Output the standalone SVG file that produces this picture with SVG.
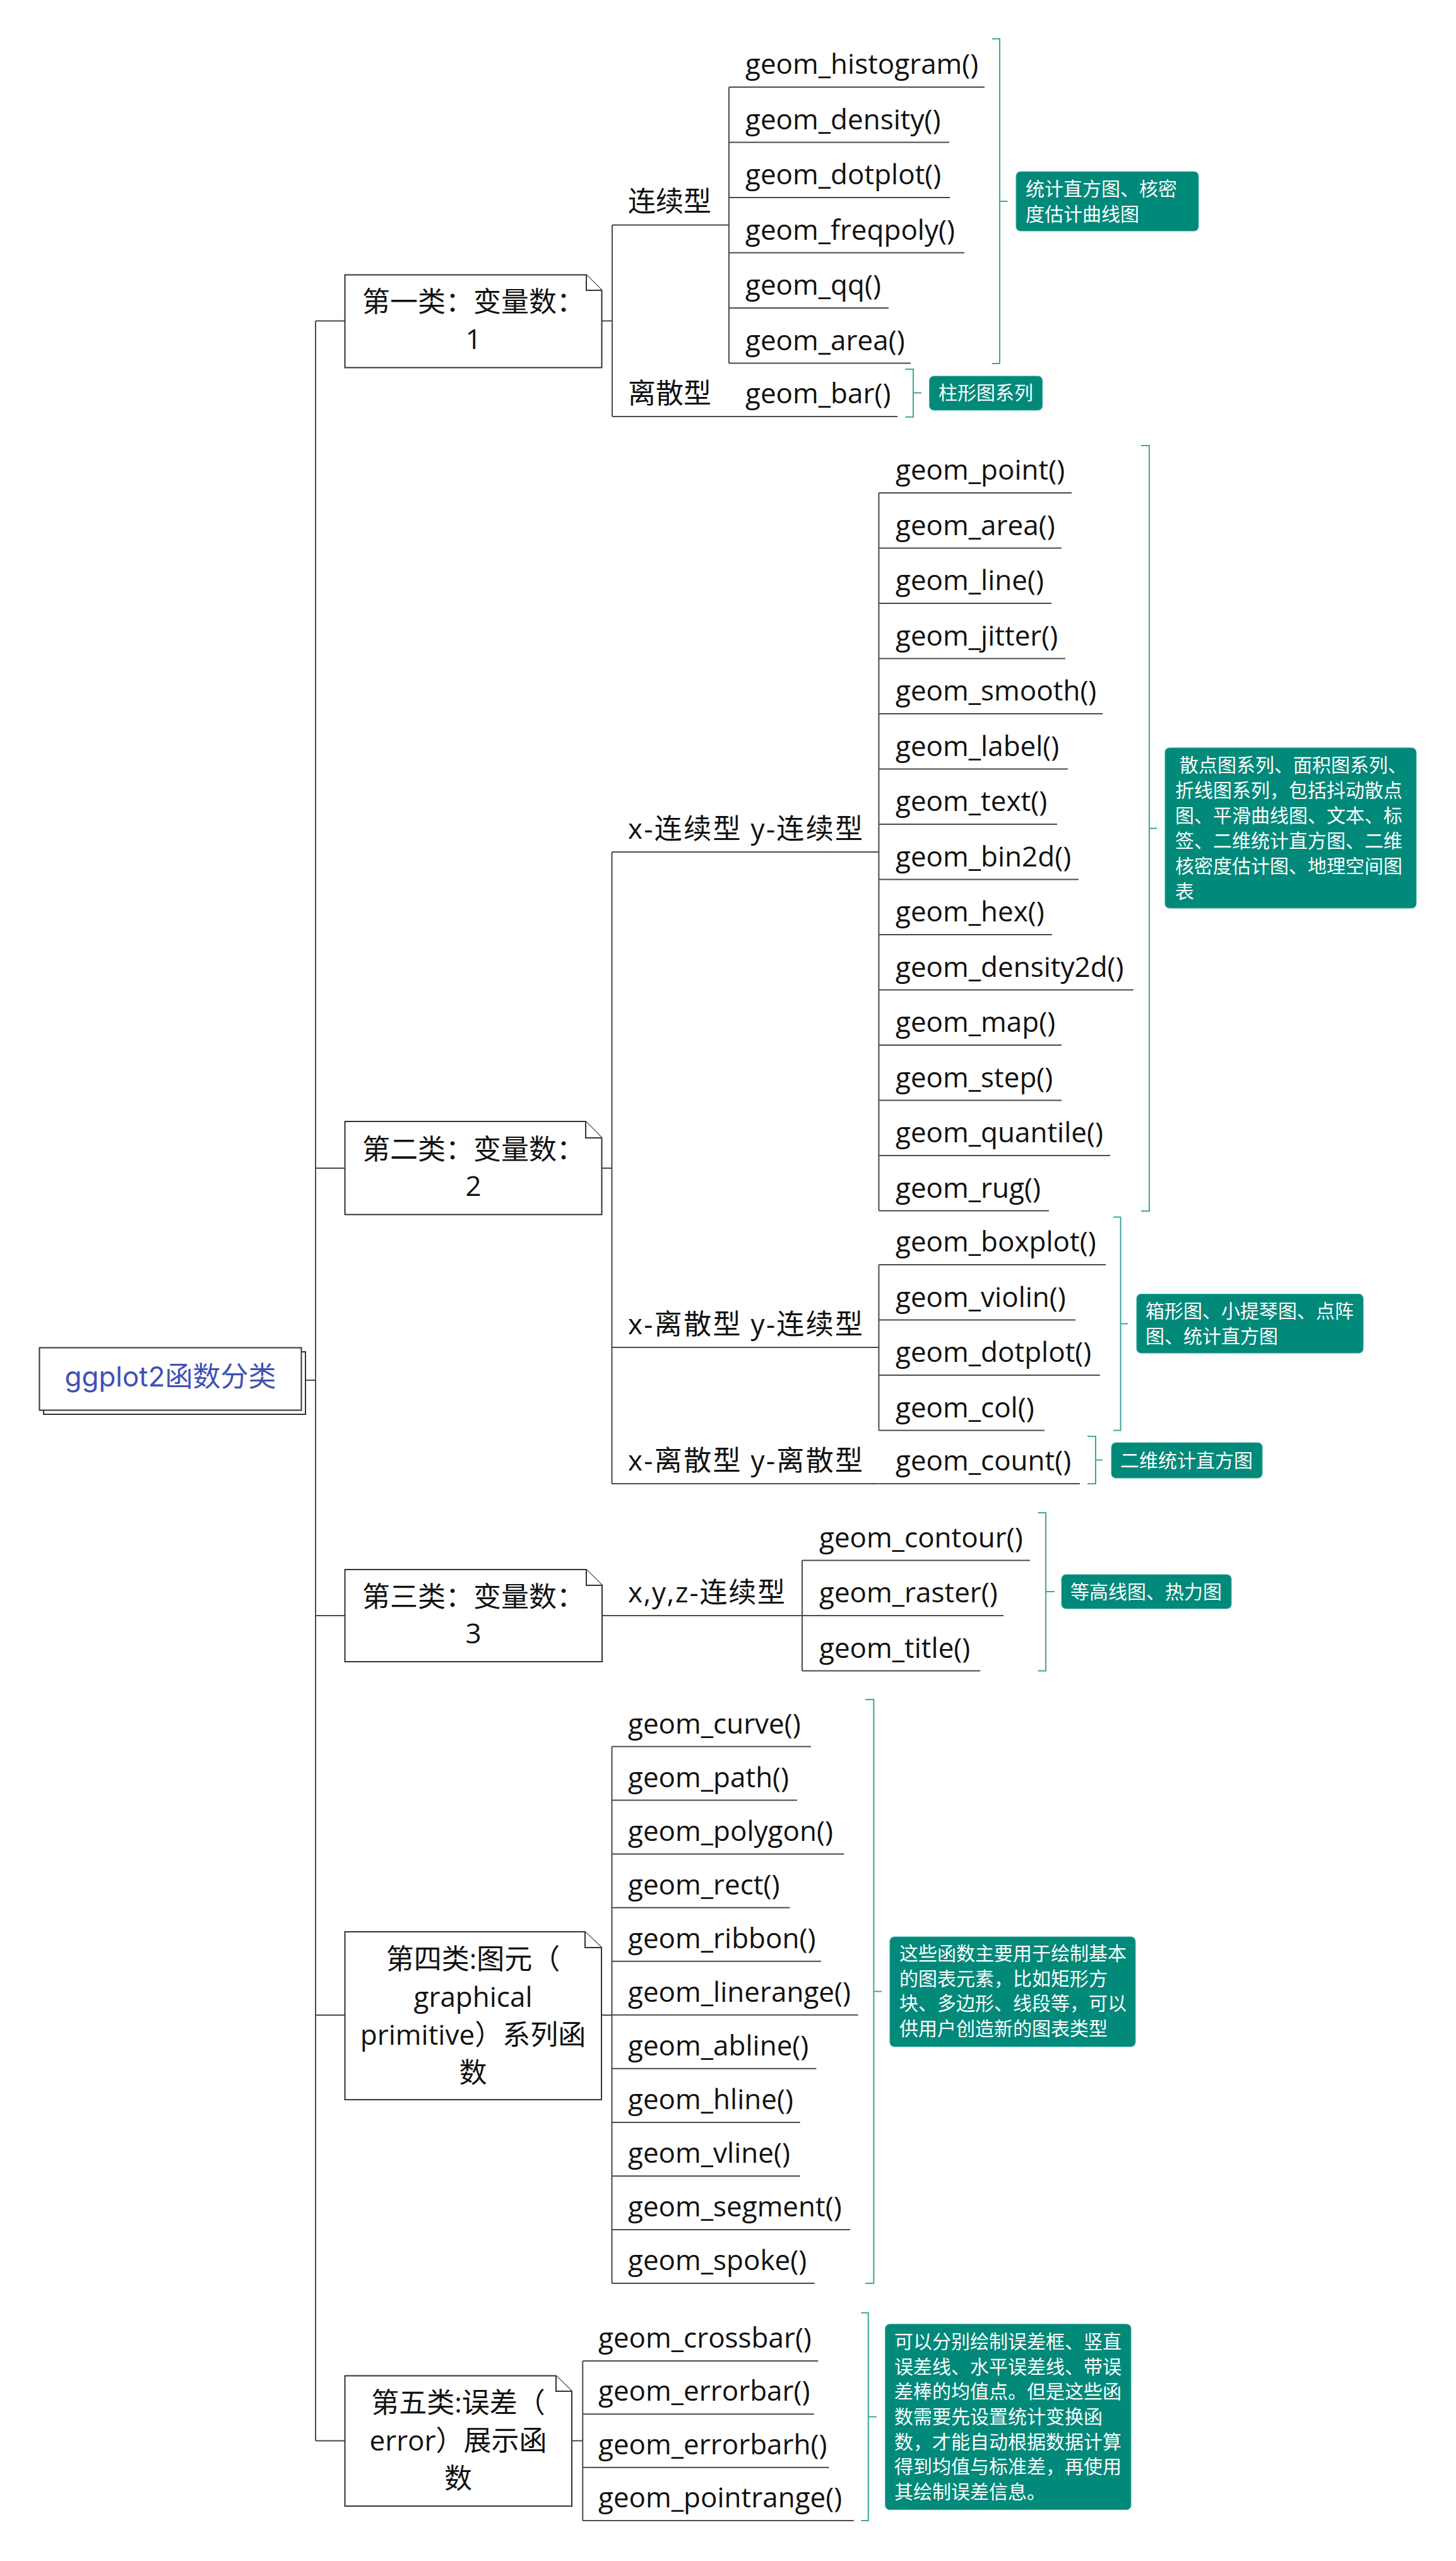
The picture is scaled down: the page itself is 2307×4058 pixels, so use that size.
<svg xmlns="http://www.w3.org/2000/svg" width="2307" height="4058" viewBox="0 0 2307 4058">
<style>
.bg{fill:#fff}
.ln{stroke:#4a4a4a;stroke-width:2;fill:none}
.ul{stroke:#4a4a4a;stroke-width:2;fill:none}
.br{stroke:#3aa89b;stroke-width:2;fill:none}
.nd{fill:#fff;stroke:#333;stroke-width:2}
.t{font-family:"Open Sans","Noto Sans CJK SC",sans-serif;font-size:44px;fill:#111}
.c{text-anchor:middle}
.rt{font-family:Inter,"Noto Sans CJK SC",sans-serif;font-size:44px;fill:#3f51b5;text-anchor:middle}
.nb{fill:#01897a;stroke:#3aa89b;stroke-width:1}
.nt{font-family:"Noto Sans CJK SC",sans-serif;font-size:30px;fill:#fff}
</style>
<rect class="bg" x="0" y="0" width="2307" height="4058"/>

<g id="connectors">
<path class="ln" d="M500,508.5 V3867.5"/>
<path class="ln" d="M484,2187 H500"/>
<path class="ln" d="M500,508.5 H546.5 M953.5,508.5 H970 M970,356.5 V660 M1155,138 V575.5"/>
<path class="ln" d="M500,1851 H546.5 M953.5,1851 H969.5 M969.5,1350 V2351 M1392.5,781 V1918.5 M1392.5,2004 V2266.5"/>
<path class="ln" d="M500,2560 H546.5 M954,2560 H969.5 M1271,2472.5 V2647.5"/>
<path class="ln" d="M500,3193 H546.5 M953,3193 H969.5 M969.5,2767.6 V3618"/>
<path class="ln" d="M500,3867.5 H546.5 M906,3867.5 H923.3 M923.3,3741 V3994"/>
</g>

<g id="brackets">
<path class="br" d="M1572,61.6 H1584 V576 H1572 M1584,319 H1596.5"/>
<path class="br" d="M1434.5,585 H1447 V660.7 H1434.5 M1447,622.5 H1460"/>
<path class="br" d="M1808,706 H1821 V1919 H1808 M1821,1312.5 H1833"/>
<path class="br" d="M1764,1928.6 H1775.6 V2266.5 H1764 M1775.6,2097.5 H1787"/>
<path class="br" d="M1723,2276 H1736 V2351 H1723 M1736,2313.5 H1747"/>
<path class="br" d="M1644.6,2397 H1657 V2647.5 H1644.6 M1657,2522 H1671"/>
<path class="br" d="M1371,2693 H1384.4 V3618 H1371 M1384.4,3155.5 H1397"/>
<path class="br" d="M1364.3,3664.7 H1375.8 V3994 H1364.3 M1375.8,3829.4 H1389"/>
</g>

<g id="root">
<rect class="nd" x="69" y="2142" width="415" height="99"/>
<rect class="nd" x="62.5" y="2135.5" width="415" height="99"/>
<text class="rt" x="270" y="2197">ggplot2函数分类</text>
</g>

<g id="cat1">
<path class="nd" d="M546.5,435.5 H929 L953.5,460 V582.5 H546.5 Z"/>
<path class="nd" d="M929,435.5 V460 H953.5" fill="none"/>
<text class="t c" x="750" y="494">第一类：变量数：</text>
<text class="t c" x="750" y="553">1</text>
</g>
<g id="cat2">
<path class="nd" d="M546.5,1777 H928 L953.5,1803 V1924.5 H546.5 Z"/>
<path class="nd" d="M928,1777 V1803 H953.5" fill="none"/>
<text class="t c" x="750" y="1837">第二类：变量数：</text>
<text class="t c" x="750" y="1895">2</text>
</g>
<g id="cat3">
<path class="nd" d="M546.5,2487 H929 L954,2512 V2633 H546.5 Z"/>
<path class="nd" d="M929,2487 V2512 H954" fill="none"/>
<text class="t c" x="750" y="2546">第三类：变量数：</text>
<text class="t c" x="750" y="2604">3</text>
</g>
<g id="cat4">
<path class="nd" d="M546.5,3061 H927 L953,3086 V3327 H546.5 Z"/>
<path class="nd" d="M927,3061 V3086 H953" fill="none"/>
<text class="t c" x="749.5" y="3120">第四类:图元（</text>
<text class="t c" x="749.5" y="3180">graphical</text>
<text class="t c" x="749.5" y="3240">primitive）系列函</text>
<text class="t c" x="749.5" y="3300">数</text>
</g>
<g id="cat5">
<path class="nd" d="M546.5,3764.5 H881 L906,3789 V3971 H546.5 Z"/>
<path class="nd" d="M881,3764.5 V3789 H906" fill="none"/>
<text class="t c" x="726" y="3823">第五类:误差（</text>
<text class="t c" x="726" y="3883">error）展示函</text>
<text class="t c" x="726" y="3943">数</text>
</g>

<g id="sub-continuous"><path class="ul" d="M970,356.5 H1155"/><text class="t" x="995" y="335">连续型</text></g>
<g id="sub-discrete"><path class="ul" d="M970,660 H1155"/><text class="t" x="995" y="639">离散型</text></g>
<g id="sub-xc-yc"><path class="ul" d="M969.5,1350 H1392.5"/><text class="t" x="995" y="1329" textLength="372" lengthAdjust="spacing">x-连续型 y-连续型</text></g>
<g id="sub-xd-yc"><path class="ul" d="M969.5,2135 H1392.5"/><text class="t" x="995" y="2114" textLength="372" lengthAdjust="spacing">x-离散型 y-连续型</text></g>
<g id="sub-xd-yd"><path class="ul" d="M969.5,2351 H1392.5"/><text class="t" x="995" y="2330" textLength="372" lengthAdjust="spacing">x-离散型 y-离散型</text></g>
<g id="sub-xyz"><path class="ul" d="M969.5,2560 H1271"/><text class="t" x="995" y="2539" textLength="249" lengthAdjust="spacing">x,y,z-连续型</text></g>

<g id="s1-histogram"><path class="ul" d="M1155,138 H1560"/><text class="t" x="1181" y="117">geom_histogram()</text></g>
<g id="s1-density"><path class="ul" d="M1155,225.5 H1504"/><text class="t" x="1181" y="204.5">geom_density()</text></g>
<g id="s1-dotplot"><path class="ul" d="M1155,313 H1505"/><text class="t" x="1181" y="292">geom_dotplot()</text></g>
<g id="s1-freqpoly"><path class="ul" d="M1155,400.5 H1528"/><text class="t" x="1181" y="379.5">geom_freqpoly()</text></g>
<g id="s1-qq"><path class="ul" d="M1155,488 H1408"/><text class="t" x="1181" y="467">geom_qq()</text></g>
<g id="s1-area"><path class="ul" d="M1155,575.5 H1443"/><text class="t" x="1181" y="554.5">geom_area()</text></g>
<g id="s1-bar"><path class="ul" d="M1155,660 H1422"/><text class="t" x="1181" y="639">geom_bar()</text></g>

<g id="s2-point"><path class="ul" d="M1392.5,781 H1698"/><text class="t" x="1419" y="760">geom_point()</text></g>
<g id="s2-area"><path class="ul" d="M1392.5,868.5 H1682"/><text class="t" x="1419" y="847.5">geom_area()</text></g>
<g id="s2-line"><path class="ul" d="M1392.5,956 H1666"/><text class="t" x="1419" y="935">geom_line()</text></g>
<g id="s2-jitter"><path class="ul" d="M1392.5,1043.5 H1688"/><text class="t" x="1419" y="1022.5">geom_jitter()</text></g>
<g id="s2-smooth"><path class="ul" d="M1392.5,1131 H1747"/><text class="t" x="1419" y="1110">geom_smooth()</text></g>
<g id="s2-label"><path class="ul" d="M1392.5,1218.5 H1692"/><text class="t" x="1419" y="1197.5">geom_label()</text></g>
<g id="s2-text"><path class="ul" d="M1392.5,1306 H1675"/><text class="t" x="1419" y="1285">geom_text()</text></g>
<g id="s2-bin2d"><path class="ul" d="M1392.5,1393.5 H1709"/><text class="t" x="1419" y="1372.5">geom_bin2d()</text></g>
<g id="s2-hex"><path class="ul" d="M1392.5,1481 H1667"/><text class="t" x="1419" y="1460">geom_hex()</text></g>
<g id="s2-density2d"><path class="ul" d="M1392.5,1568.5 H1796"/><text class="t" x="1419" y="1547.5">geom_density2d()</text></g>
<g id="s2-map"><path class="ul" d="M1392.5,1656 H1682"/><text class="t" x="1419" y="1635">geom_map()</text></g>
<g id="s2-step"><path class="ul" d="M1392.5,1743.5 H1682"/><text class="t" x="1419" y="1722.5">geom_step()</text></g>
<g id="s2-quantile"><path class="ul" d="M1392.5,1831 H1759"/><text class="t" x="1419" y="1810">geom_quantile()</text></g>
<g id="s2-rug"><path class="ul" d="M1392.5,1918.5 H1662"/><text class="t" x="1419" y="1897.5">geom_rug()</text></g>

<g id="s2-boxplot"><path class="ul" d="M1392.5,2004 H1752"/><text class="t" x="1419" y="1983">geom_boxplot()</text></g>
<g id="s2-violin"><path class="ul" d="M1392.5,2091.5 H1704"/><text class="t" x="1419" y="2070.5">geom_violin()</text></g>
<g id="s2-dotplot"><path class="ul" d="M1392.5,2179 H1743"/><text class="t" x="1419" y="2158">geom_dotplot()</text></g>
<g id="s2-col"><path class="ul" d="M1392.5,2266.5 H1655"/><text class="t" x="1419" y="2245.5">geom_col()</text></g>
<g id="s2-count"><path class="ul" d="M1392.5,2351 H1711"/><text class="t" x="1419" y="2330">geom_count()</text></g>

<g id="s3-contour"><path class="ul" d="M1271,2472.5 H1632"/><text class="t" x="1298" y="2451.5">geom_contour()</text></g>
<g id="s3-raster"><path class="ul" d="M1271,2560 H1590"/><text class="t" x="1298" y="2539">geom_raster()</text></g>
<g id="s3-title"><path class="ul" d="M1271,2647.5 H1553"/><text class="t" x="1298" y="2626.5">geom_title()</text></g>

<g id="s4-curve"><path class="ul" d="M969.5,2767.6 H1285"/><text class="t" x="995" y="2746.6">geom_curve()</text></g>
<g id="s4-path"><path class="ul" d="M969.5,2852.6 H1263"/><text class="t" x="995" y="2831.6">geom_path()</text></g>
<g id="s4-polygon"><path class="ul" d="M969.5,2937.7 H1337.5"/><text class="t" x="995" y="2916.7">geom_polygon()</text></g>
<g id="s4-rect"><path class="ul" d="M969.5,3022.7 H1251.5"/><text class="t" x="995" y="3001.7">geom_rect()</text></g>
<g id="s4-ribbon"><path class="ul" d="M969.5,3107.8 H1301"/><text class="t" x="995" y="3086.8">geom_ribbon()</text></g>
<g id="s4-linerange"><path class="ul" d="M969.5,3192.8 H1359.5"/><text class="t" x="995" y="3171.8">geom_linerange()</text></g>
<g id="s4-abline"><path class="ul" d="M969.5,3277.8 H1293.5"/><text class="t" x="995" y="3256.8">geom_abline()</text></g>
<g id="s4-hline"><path class="ul" d="M969.5,3362.9 H1267.7"/><text class="t" x="995" y="3341.9">geom_hline()</text></g>
<g id="s4-vline"><path class="ul" d="M969.5,3447.9 H1267.7"/><text class="t" x="995" y="3426.9">geom_vline()</text></g>
<g id="s4-segment"><path class="ul" d="M969.5,3533 H1347"/><text class="t" x="995" y="3512">geom_segment()</text></g>
<g id="s4-spoke"><path class="ul" d="M969.5,3618 H1290.7"/><text class="t" x="995" y="3597">geom_spoke()</text></g>

<g id="s5-crossbar"><path class="ul" d="M923.3,3741 H1296.4"/><text class="t" x="948" y="3720">geom_crossbar()</text></g>
<g id="s5-errorbar"><path class="ul" d="M923.3,3825.3 H1289.7"/><text class="t" x="948" y="3804.3">geom_errorbar()</text></g>
<g id="s5-errorbarh"><path class="ul" d="M923.3,3909.7 H1313.6"/><text class="t" x="948" y="3888.7">geom_errorbarh()</text></g>
<g id="s5-pointrange"><path class="ul" d="M923.3,3994 H1352.8"/><text class="t" x="948" y="3973">geom_pointrange()</text></g>

<g id="note1">
<rect class="nb" x="1610" y="272" width="289" height="94" rx="7"/>
<text class="nt" x="1625" y="310">统计直方图、核密</text>
<text class="nt" x="1625" y="350">度估计曲线图</text>
</g>
<g id="note-bar">
<rect class="nb" x="1472.7" y="596" width="179" height="54" rx="7"/>
<text class="nt" x="1487" y="633">柱形图系列</text>
</g>
<g id="note2a">
<rect class="nb" x="1846" y="1185" width="398" height="254" rx="7"/>
<text class="nt" x="1869" y="1223">散点图系列、面积图系列、</text>
<text class="nt" x="1862" y="1263">折线图系列，包括抖动散点</text>
<text class="nt" x="1862" y="1303">图、平滑曲线图、文本、标</text>
<text class="nt" x="1862" y="1343">签、二维统计直方图、二维</text>
<text class="nt" x="1862" y="1383">核密度估计图、地理空间图</text>
<text class="nt" x="1862" y="1423">表</text>
</g>
<g id="note2b">
<rect class="nb" x="1801" y="2050.5" width="359" height="93.5" rx="7"/>
<text class="nt" x="1815" y="2088">箱形图、小提琴图、点阵</text>
<text class="nt" x="1815" y="2128">图、统计直方图</text>
</g>
<g id="note2c">
<rect class="nb" x="1761" y="2286" width="239" height="56" rx="7"/>
<text class="nt" x="1775" y="2325">二维统计直方图</text>
</g>
<g id="note3">
<rect class="nb" x="1682" y="2495" width="269" height="54" rx="7"/>
<text class="nt" x="1696" y="2533">等高线图、热力图</text>
</g>
<g id="note4">
<rect class="nb" x="1410" y="3069" width="389" height="174" rx="7"/>
<text class="nt" x="1425" y="3106">这些函数主要用于绘制基本</text>
<text class="nt" x="1425" y="3145.6">的图表元素，比如矩形方</text>
<text class="nt" x="1425" y="3185.2">块、多边形、线段等，可以</text>
<text class="nt" x="1425" y="3224.8">供用户创造新的图表类型</text>
</g>
<g id="note5">
<rect class="nb" x="1402.7" y="3682.7" width="389.3" height="294" rx="7"/>
<text class="nt" x="1417" y="3721">可以分别绘制误差框、竖直</text>
<text class="nt" x="1417" y="3760.7">误差线、水平误差线、带误</text>
<text class="nt" x="1417" y="3800.3">差棒的均值点。但是这些函</text>
<text class="nt" x="1417" y="3840">数需要先设置统计变换函</text>
<text class="nt" x="1417" y="3879.7">数，才能自动根据数据计算</text>
<text class="nt" x="1417" y="3919.3">得到均值与标准差，再使用</text>
<text class="nt" x="1417" y="3959">其绘制误差信息。</text>
</g>
</svg>
